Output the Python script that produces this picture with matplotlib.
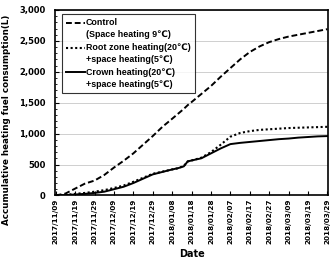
import matplotlib
matplotlib.use("Agg")
import matplotlib.pyplot as plt
import matplotlib.dates as mdates
from matplotlib.legend_handler import HandlerLine2D
import pandas as pd

start = pd.Timestamp("2017-11-09")
days = [0, 5, 10, 15, 20, 25, 30, 35, 40, 45, 50, 55, 60, 63, 66, 68, 70,
        75, 80, 85, 90, 95, 100, 105, 110, 115, 120, 125, 130, 135, 140]
control = [0, 30, 110, 190, 240, 330, 450, 560, 680, 820, 960, 1110, 1240, 1320, 1400,
           1460, 1510, 1640, 1770, 1920, 2060, 2200, 2320, 2410, 2480, 2530, 2570,
           2600, 2630, 2660, 2690]
root_zone = [0, 8, 25, 40, 60, 85, 120, 160, 220, 285, 350, 385, 420, 440, 475, 550,
             565, 610, 700, 820, 950, 1010, 1040, 1060, 1070, 1080, 1090, 1095, 1100,
             1105, 1110]
crown = [0, 5, 15, 25, 40, 60, 100, 140, 200, 270, 340, 380, 420, 440, 470, 550, 565,
         600, 680, 760, 830, 850, 865, 880, 895, 910, 920, 935, 945, 955, 960]
tick_days = [0, 10, 20, 30, 40, 50, 60, 70, 80, 90, 100, 110, 120, 130, 140]
labels = ["Control\n(Space heating 9\u2103)",
          "Root zone heating(20\u2103)\n+space heating(5\u2103)",
          "Crown heating(20\u2103)\n+space heating(5\u2103)"]

dates = [start + pd.Timedelta(days=d) for d in days]
tick_dates = [start + pd.Timedelta(days=d) for d in tick_days]


# legend line sits on the first line of a two-line label
class FirstLineHandler(HandlerLine2D):
    def create_artists(self, legend, orig_handle, xdescent, ydescent, width, height,
                       fontsize, trans):
        return super().create_artists(legend, orig_handle, xdescent,
                                      ydescent - 1.4 * fontsize, width, height,
                                      fontsize, trans)


fig = plt.figure(figsize=(3.32, 2.63), dpi=100)
ax = fig.add_axes([0.166, 0.257, 0.822, 0.705])

l1, = ax.plot(dates, control, color="black", linestyle=(0, (3, 1.5)), linewidth=1.4,
              label=labels[0])
l2, = ax.plot(dates, root_zone, color="black", linestyle=(0, (1, 1.2)), linewidth=1.5,
              label=labels[1])
l3, = ax.plot(dates, crown, color="black", linestyle="-", linewidth=1.4,
              label=labels[2])

ax.set_xlim(start - pd.Timedelta(days=0.3), tick_dates[-1] + pd.Timedelta(days=0.3))
ax.set_ylim(0, 3000)
ax.set_yticks(range(0, 3001, 500))
ax.set_yticks(range(0, 3001, 100), minor=True)
ax.set_yticklabels([f"{v:,}" for v in range(0, 3001, 500)])
ax.set_xticks(tick_dates)
ax.xaxis.set_major_formatter(mdates.DateFormatter("%Y/%m/%d"))
ax.grid(axis="y", color="#c8c8c8", linewidth=0.6)
ax.set_axisbelow(True)

ax.tick_params(axis="x", direction="in", length=3, labelsize=5.2, rotation=90, pad=2)
ax.tick_params(axis="y", which="major", direction="in", length=3, labelsize=6, pad=7)
ax.tick_params(axis="y", which="minor", direction="in", length=1.5)
for lab in ax.get_xticklabels() + ax.get_yticklabels():
    lab.set_fontweight("bold")
for s in ax.spines.values():
    s.set_linewidth(1.2)

ax.set_xlabel("Date", fontsize=7, fontweight="bold", labelpad=4)
ax.set_ylabel("Accumulative heating fuel consumption(L)", fontsize=6.3,
              fontweight="bold")
ax.yaxis.set_label_coords(-0.16, 0.41)

h = FirstLineHandler()
leg = ax.legend(handler_map={l1: h, l2: h, l3: h}, loc="upper left",
                bbox_to_anchor=(0.024, 0.979), borderaxespad=0, frameon=True,
                fancybox=False, edgecolor="black", handlelength=2.1,
                handletextpad=0.15, borderpad=0.5, labelspacing=0.45,
                prop={"family": ["Liberation Sans", "DejaVu Sans"],
                      "weight": "bold", "size": 6.4})
leg.get_frame().set_linewidth(0.8)
for t in leg.get_texts():
    t.set_linespacing(1.4)

fig.savefig("out.png", dpi=100)
